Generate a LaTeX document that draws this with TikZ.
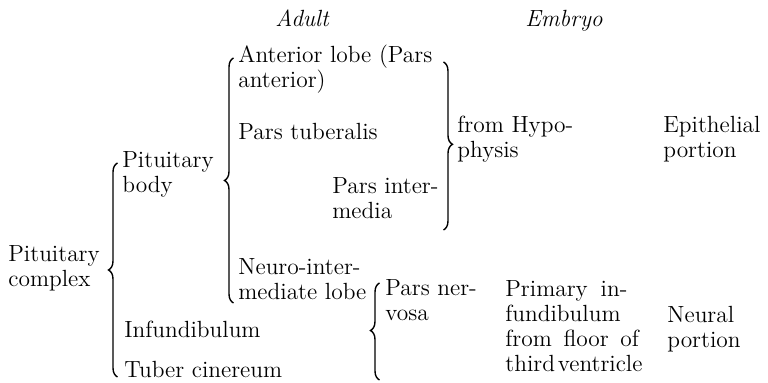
\documentclass[tikz,border=0pt]{standalone}
\usetikzlibrary{decorations.pathreplacing,positioning}
\tikzset{
  txt/.style={anchor=base west,inner sep=0pt,align=left,font=\fontsize{11.7}{12.5}\selectfont},
  hdr/.style={txt,font=\fontsize{11.7}{12.5}\selectfont\itshape},
  brc/.style={decorate,decoration={brace,amplitude=4.5pt,aspect=#1},line width=0.7pt},
  brc/.default=0.5
}
\begin{document}
\begin{tikzpicture}[x=0.5pt,y=-0.5pt]
  \useasboundingbox (0,0) rectangle (768,383);
  % Column heads
  \node[hdr] (adult) at (275,27) {Adult};
  \node[hdr] (embryo) at (525,27) {Embryo};

  % Left side (base = last line)
  \node[txt] (cplx) at (8,287) {Pituitary\\complex};
  \node[txt] (pbody) at (122,193) {Pituitary\\body};
  \node[txt] (infund) at (124,338) {Infundibulum};
  \node[txt] (tuber) at (124,378) {Tuber cinereum};

  % Adult parts
  \node[txt] (ant) at (238,88) {Anterior lobe (Pars\\anterior)};
  \node[txt] (tub) at (238,140) {Pars tuberalis};
  \node[txt] (inter) at (332,219) {Pars inter-\\media};
  \node[txt] (neuro) at (238,300) {Neuro-inter-\\mediate lobe};
  \node[txt] (nerv) at (385,321) {Pars ner-\\vosa};

  % Embryo origin
  \node[txt] (hypo) at (457,158) {from Hypo-\\physis};
  \node[txt] (prim) at (505,372) {Primary\hspace{0.55em}in-\\fundibulum\\from\hspace{0.5em}floor\hspace{0.5em}of\\third\hspace{0.12em}ventricle};
  \node[txt] (epith) at (663,158) {Epithelial\\portion};
  \node[txt] (neural) at (667,348) {Neural\\portion};

  % Brace ends
  \coordinate (cx-top) at (117.5,163);
  \coordinate (cx-bot) at (117.5,377);
  \coordinate (pb-top) at (233.5,58);
  \coordinate (pb-bot) at (233.5,303);
  \coordinate (ep-top) at (443.5,62);
  \coordinate (ep-bot) at (443.5,230);
  \coordinate (nv-top) at (379.5,283);
  \coordinate (nv-bot) at (379.5,380);

  % Braces
  \draw[brc] (cx-bot) -- (cx-top);
  \draw[brc] (pb-bot) -- (pb-top);
  \draw[brc=0.49] (ep-top) -- (ep-bot);
  \draw[brc=0.51] (nv-bot) -- (nv-top);
\end{tikzpicture}
\end{document}
